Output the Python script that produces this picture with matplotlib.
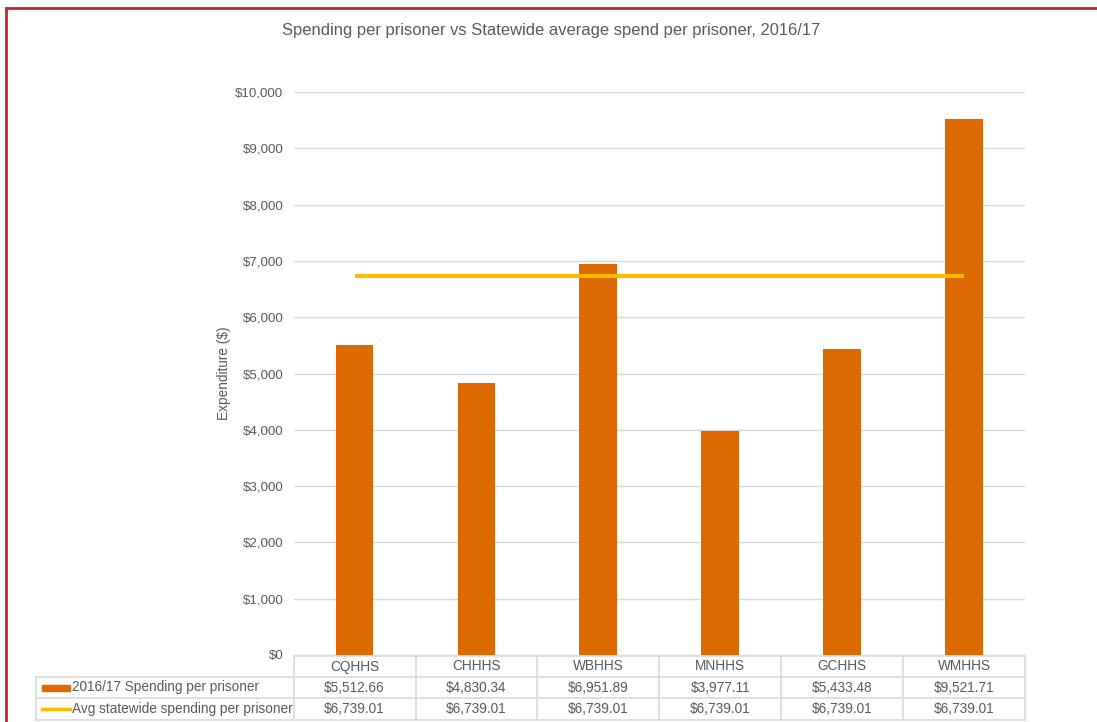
import matplotlib.pyplot as plt
from matplotlib.lines import Line2D
from matplotlib.patches import Rectangle
from matplotlib.transforms import blended_transform_factory
from matplotlib.ticker import FuncFormatter

plt.rcParams['font.family'] = ['Liberation Sans', 'DejaVu Sans']

# Data
regions = ['CQHHS', 'CHHHS', 'WBHHS', 'MNHHS', 'GCHHS', 'WMHHS']
spend = [5512.66, 4830.34, 6951.89, 3977.11, 5433.48, 9521.71]
avg_spend = [6739.01, 6739.01, 6739.01, 6739.01, 6739.01, 6739.01]
series_names = ['2016/17 Spending per prisoner', 'Avg statewide spending per prisoner']

bar_color = '#DD6A00'
line_color = '#FFBA00'
grid_color = '#D9D9D9'
text_color = '#595959'

W, H = 1097, 722
fig = plt.figure(figsize=(W / 100, H / 100), dpi=100)


def fx(px):
    return px / W


def fy(py):
    return 1 - py / H


ax = fig.add_axes([fx(293.6), fy(655), fx(1025) - fx(293.6), fy(92) - fy(655)])
x = list(range(len(regions)))
ax.bar(x, spend, width=0.31, color=bar_color, zorder=2)
ax.plot(x, avg_spend, color=line_color, lw=3, solid_capstyle='butt', zorder=3)

ax.set_xlim(-0.5, len(regions) - 0.5)
ax.set_ylim(0, 10000)
ax.set_yticks(range(0, 10001, 1000))
ax.yaxis.set_major_formatter(FuncFormatter(lambda v, p: f'${v:,.0f}'))
ax.tick_params(axis='y', length=0, pad=7.5, labelsize=9.6, labelcolor=text_color)
ax.set_xticks([])
ax.grid(axis='y', color=grid_color, lw=1, zorder=0)
ax.set_axisbelow(True)
for s in ax.spines.values():
    s.set_visible(False)

ax.set_ylabel('Expenditure ($)', fontsize=9.8, color=text_color, labelpad=3)
fig.text(fx(551.5), fy(30), 'Spending per prisoner vs Statewide average spend per prisoner, 2016/17',
         ha='center', va='center', fontsize=11.9, color=text_color)

# Data table under the plot
tr = blended_transform_factory(ax.transData, fig.transFigure)
row_y = [656, 677, 698, 720]
left_px = 36
lkw = dict(color=grid_color, lw=1.2, zorder=1)

# horizontal lines
fig.add_artist(Line2D([fx(293.6), fx(1025)], [fy(row_y[0])] * 2, transform=fig.transFigure, **lkw))
for yy in row_y[1:]:
    fig.add_artist(Line2D([fx(left_px), fx(1025)], [fy(yy)] * 2, transform=fig.transFigure, **lkw))
# vertical lines
fig.add_artist(Line2D([fx(left_px)] * 2, [fy(row_y[1]), fy(row_y[3])], transform=fig.transFigure, **lkw))
for i in range(len(regions) + 1):
    fig.add_artist(Line2D([i - 0.5] * 2, [fy(row_y[0]), fy(row_y[3])], transform=tr, **lkw))

tkw = dict(ha='center', va='center', fontsize=9.8, color=text_color)
for i, name in enumerate(regions):
    fig.text(i, fy((row_y[0] + row_y[1]) / 2), name, transform=tr, **tkw)
    fig.text(i, fy((row_y[1] + row_y[2]) / 2), f'${spend[i]:,.2f}', transform=tr, **tkw)
    fig.text(i, fy((row_y[2] + row_y[3]) / 2), f'${avg_spend[i]:,.2f}', transform=tr, **tkw)

# legend keys inside the table
y1 = (row_y[1] + row_y[2]) / 2
y2 = (row_y[2] + row_y[3]) / 2
fig.add_artist(Rectangle((fx(42), fy(y1 + 3)), fx(70) - fx(42), fy(y1 - 3) - fy(y1 + 3),
                         transform=fig.transFigure, color=bar_color))
fig.add_artist(Line2D([fx(42), fx(70)], [fy(y2)] * 2, transform=fig.transFigure,
                      color=line_color, lw=2.5))
fig.text(fx(72), fy(y1), series_names[0], ha='left', va='center', fontsize=9.8, color=text_color)
fig.text(fx(72), fy(y2), series_names[1], ha='left', va='center', fontsize=9.8, color=text_color)

# outer frame
frame = dict(color='#C0282D', lw=2, transform=fig.transFigure, solid_capstyle='projecting')
fig.add_artist(Line2D([fx(6), fx(W)], [fy(8)] * 2, **frame))
fig.add_artist(Line2D([fx(6)] * 2, [fy(8), 0], **frame))

fig.savefig('out.png', dpi=100)
